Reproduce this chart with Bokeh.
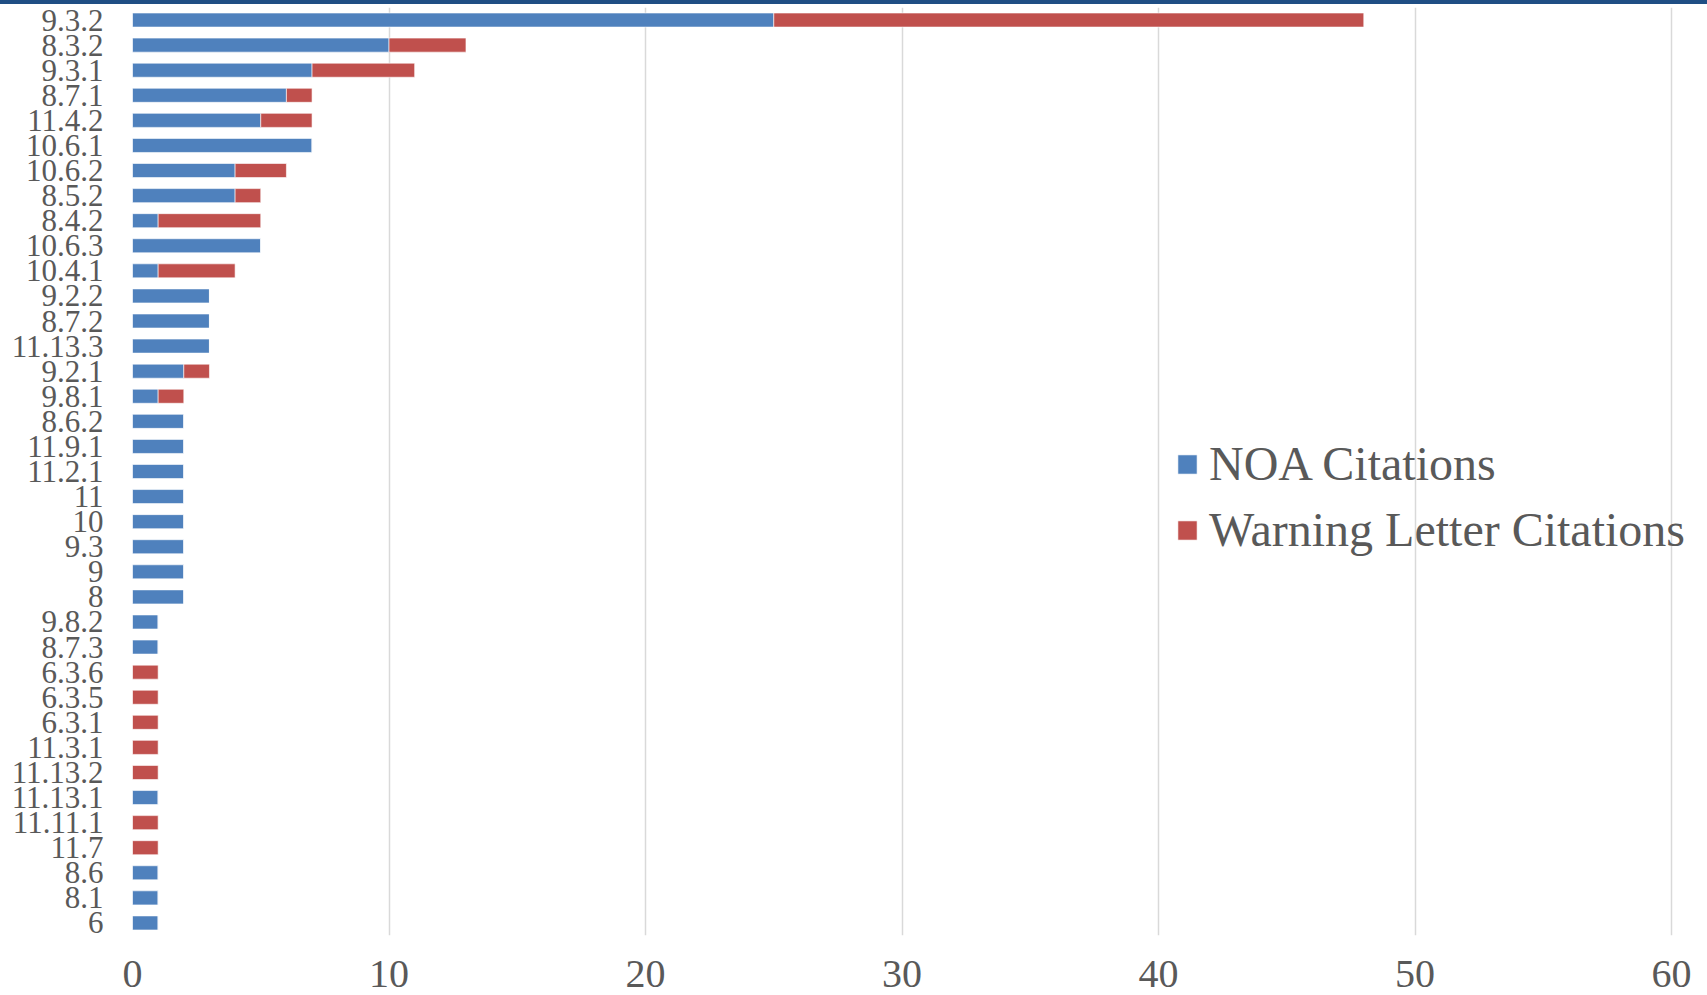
from bokeh.plotting import figure
from bokeh.models import (FactorRange, Range1d, FixedTicker, Legend, LegendItem,
                          ColumnDataSource, Div)
from bokeh.layouts import column
from bokeh.embed import file_html
from bokeh.resources import INLINE

categories = ["9.3.2", "8.3.2", "9.3.1", "8.7.1", "11.4.2", "10.6.1", "10.6.2", "8.5.2",
              "8.4.2", "10.6.3", "10.4.1", "9.2.2", "8.7.2", "11.13.3", "9.2.1", "9.8.1",
              "8.6.2", "11.9.1", "11.2.1", "11", "10", "9.3", "9", "8", "9.8.2", "8.7.3",
              "6.3.6", "6.3.5", "6.3.1", "11.3.1", "11.13.2", "11.13.1", "11.11.1", "11.7",
              "8.6", "8.1", "6"]
noa_citations = [25, 10, 7, 6, 5, 7, 4, 4, 1, 5, 1, 3, 3, 3, 2, 1,
                 2, 2, 2, 2, 2, 2, 2, 2, 1, 1,
                 0, 0, 0, 0, 0, 1, 0, 0, 1, 1, 1]
warning_letter_citations = [23, 3, 4, 1, 2, 0, 2, 1, 4, 0, 3, 0, 0, 0, 1, 1,
                            0, 0, 0, 0, 0, 0, 0, 0, 0, 0,
                            1, 1, 1, 1, 1, 0, 1, 1, 0, 0, 0]
x_ticks = [0, 10, 20, 30, 40, 50, 60]
series_names = ["NOA Citations", "Warning Letter Citations"]

BLUE = "#4F81BD"
RED = "#C0504D"
TXT = "#595959"
FONT = "Liberation Serif"

source = ColumnDataSource(dict(cat=categories, noa=noa_citations, warn=warning_letter_citations))

W, H = 1707, 991
p = figure(width=W, height=H, output_backend="svg", toolbar_location=None,
           y_range=FactorRange(factors=list(reversed(categories)), range_padding=0),
           x_range=Range1d(0, 61.4),
           min_border_left=132, min_border_right=0, min_border_top=3, min_border_bottom=60)

renderers = p.hbar_stack(["noa", "warn"], y="cat", height=0.56, color=[BLUE, RED],
                         line_color="white", line_width=0.6, source=source)

p.outline_line_color = None
p.ygrid.grid_line_color = None
p.xgrid.grid_line_color = "#D9D9D9"
p.xgrid.grid_line_width = 1.5
p.xaxis.ticker = FixedTicker(ticks=x_ticks)

for ax in (p.xaxis[0], p.yaxis[0]):
    ax.axis_line_color = None
    ax.major_tick_line_color = None
    ax.minor_tick_line_color = None
    ax.major_label_text_font = FONT
    ax.major_label_text_color = TXT

p.xaxis.major_label_text_font_size = "40px"
p.xaxis.major_label_standoff = 19
p.yaxis.major_label_text_font_size = "31px"
p.yaxis.major_label_standoff = 23

legend = Legend(items=[LegendItem(label=series_names[0], renderers=[renderers[0]]),
                       LegendItem(label=series_names[1], renderers=[renderers[1]])],
                location=(1043, 378), padding=0, margin=0, spacing=11,
                glyph_width=24, glyph_height=24, label_height=50, label_standoff=10,
                label_text_font=FONT, label_text_font_size="48px", label_text_color=TXT,
                background_fill_alpha=0, border_line_alpha=0)
p.add_layout(legend, "center")

bar = Div(width=W, height=4, margin=0, styles={"background-color": "#1F4E84"})
layout = column(bar, p, spacing=0)

open("out.html", "w").write(file_html(layout, INLINE))
